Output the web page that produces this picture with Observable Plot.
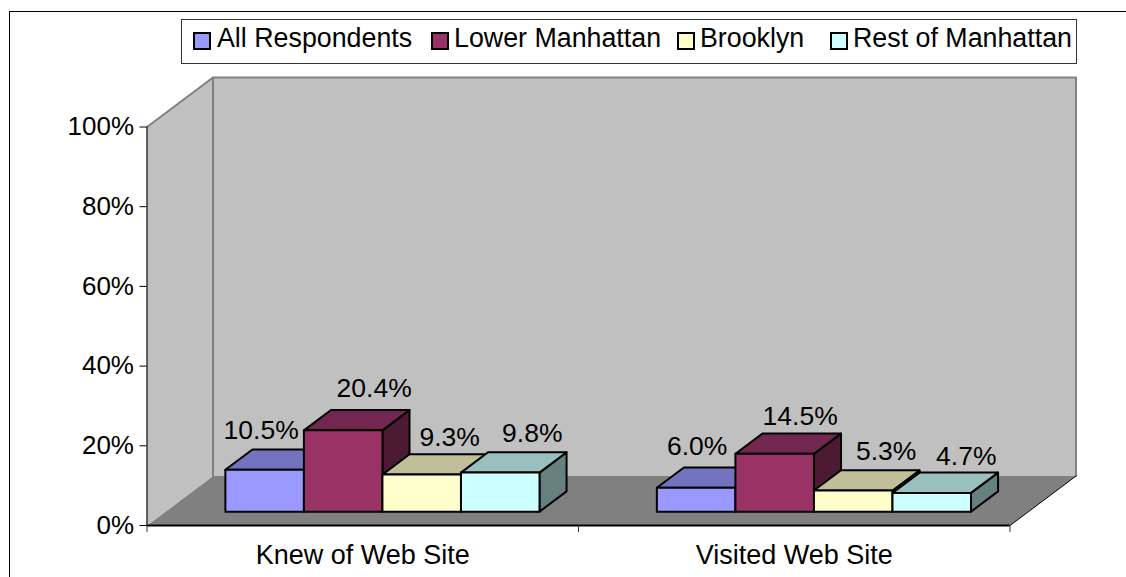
<!DOCTYPE html>
<html>
<head>
<meta charset="utf-8">
<script src="https://cdn.jsdelivr.net/npm/d3@7"></script>
<script src="https://cdn.jsdelivr.net/npm/@observablehq/plot@0.6"></script>
<style>
  html, body { margin: 0; padding: 0; background: #fff; overflow: hidden; width: 1126px; height: 577px; }
  #wrap { position: relative; width: 1126px; height: 577px; font-family: "Liberation Sans", Arial, sans-serif; color: #000; }
  #wrap svg { position: absolute; left: 0; top: 0; }
  #edge { position: absolute; left: 9px; top: 11px; width: 1117px; height: 566px; border-left: 1px solid #000; border-top: 1px solid #000; box-sizing: border-box; }
  #legend { position: absolute; left: 181px; top: 19px; width: 896px; height: 45px; box-sizing: border-box; border: 1px solid #333; background: #fff; }
  #legend .sw { position: absolute; top: 12px; width: 18px; height: 18px; box-sizing: border-box; border: 2px solid #000; }
  #legend .tx { position: absolute; top: 2px; font-size: 26.8px; line-height: 32px; white-space: nowrap; }
</style>
</head>
<body>
<div id="wrap"><div id="edge"></div></div>
<script>
// ---- data ----
const categories = ["Knew of Web Site", "Visited Web Site"];
const seriesNames = ["All Respondents", "Lower Manhattan", "Brooklyn", "Rest of Manhattan"];
const knewValues = [10.5, 20.4, 9.3, 9.8];
const visitedValues = [6.0, 14.5, 5.3, 4.7];
const yTicks = [0, 20, 40, 60, 80, 100];

// ---- style and layout ----
const frontColors = ["#9999FF", "#993366", "#FFFFCC", "#CCFFFF"];
const topColors = ["#7373BF", "#732650", "#BFBF99", "#99BFBF"];
const sideColors = ["#4D4D80", "#4D1A33", "#808066", "#668080"];
const depthX = 0.153, depthY = 12.42;       // oblique depth of the box, in data units
const barStart = 0.1388, barWidth = 0.182;  // in category units
const zFront = 0.28, zBack = 0.69;
// hand-placed data labels, in pixels from the top front centre of each bar
const labelDx = [[-3.5, 31, 28, 32], [1, 25.5, 33, 34.5]];
const labelDy = [[-39, -42.2, -36.6, -39.5], [-41, -37, -38.6, -36.6]];
const legendSwatchX = [11, 249, 495, 648];
const legendTextX = [35, 272, 518, 671];

// ---- projection of (category position, value, depth) to data-space points ----
const px = (c, z) => c + z * depthX;
const py = (v, z) => v + z * depthY;
const poly = (id, fill, pts) => [...pts, pts[0]].map(([c, v, z]) => ({id, fill, x: px(c, z), y: py(v, z)}));

const floor = poly("floor", "#808080", [[0, 0, 0], [2, 0, 0], [2, 0, 1], [0, 0, 1]]);
const backWall = poly("back", "#C0C0C0", [[0, 0, 1], [2, 0, 1], [2, 100, 1], [0, 100, 1]]);
const sideWall = poly("side", "#C0C0C0", [[0, 0, 0], [0, 0, 1], [0, 100, 1], [0, 100, 0]]);

const barFaces = [];
const barTops = [];
[knewValues, visitedValues].forEach((vals, g) => {
  vals.forEach((v, s) => {
    const a = g + barStart + s * barWidth, b = a + barWidth;
    const k = `${g}-${s}`;
    barFaces.push(...poly(k + "side", sideColors[s], [[b, 0, zFront], [b, 0, zBack], [b, v, zBack], [b, v, zFront]]));
    barFaces.push(...poly(k + "top", topColors[s], [[a, v, zFront], [b, v, zFront], [b, v, zBack], [a, v, zBack]]));
    barFaces.push(...poly(k + "front", frontColors[s], [[a, 0, zFront], [b, 0, zFront], [b, v, zFront], [a, v, zFront]]));
    barTops.push({g, s, v, x: px((a + b) / 2, zFront), y: py(v, zFront), label: v.toFixed(1) + "%"});
  });
});

const lineXY = {x: "x", y: "y"};
const font = {fontFamily: "Liberation Sans, Arial, sans-serif", fill: "#000"};
const chart = Plot.plot({
  width: 1126, height: 577,
  marginLeft: 146.5, marginRight: 116.5, marginTop: 126.5, marginBottom: 52,
  style: {background: "transparent", fontFamily: "Liberation Sans, Arial, sans-serif", color: "#000", overflow: "visible"},
  x: {domain: [0, 2]},
  y: {domain: [0, 100]},
  color: {type: "identity"},
  marks: [
    Plot.line(floor, {...lineXY, z: "id", fill: "fill", stroke: "none"}),
    Plot.line(backWall, {...lineXY, z: "id", fill: "fill", stroke: "none"}),
    Plot.line(sideWall, {...lineXY, z: "id", fill: "fill", stroke: "none"}),
    // wall edges
    Plot.line([[2, 0, 1], [2, 100, 1], [0, 100, 1], [0, 0, 1]].map(([c, v, z]) => ({x: px(c, z), y: py(v, z)})),
      {...lineXY, stroke: "#808080", strokeWidth: 2}),
    Plot.line([[0, 100, 1], [0, 100, 0]].map(([c, v, z]) => ({x: px(c, z), y: py(v, z)})),
      {...lineXY, stroke: "#808080", strokeWidth: 2}),
    // floor right edge
    Plot.line([[2, 0, 0], [2, 0, 1]].map(([c, v, z]) => ({x: px(c, z), y: py(v, z)})),
      {...lineXY, stroke: "#000", strokeWidth: 1}),
    // axes
    Plot.ruleX([0], {y1: 0, y2: 100, stroke: "#333", strokeWidth: 1.5}),
    Plot.ruleY([0], {x1: 0, x2: 2, stroke: "#000", strokeWidth: 2}),
    Plot.axisY({ticks: yTicks, tickFormat: d => d + "%", tickSize: 7, tickPadding: 6, fontSize: 26, label: null, stroke: "#000", fill: "#000"}),
    Plot.axisX({ticks: [0, 1, 2], tickFormat: () => "", tickSize: 7, label: null, stroke: "#333"}),
    Plot.text(categories, {x: (d, i) => i + 0.5, y: () => 0, dy: 30, text: d => d, fontSize: 27, ...font}),
    // bars
    Plot.line(barFaces, {...lineXY, z: "id", fill: "fill", stroke: "#000", strokeWidth: 2, strokeLinejoin: "round"}),
    // data labels
    ...barTops.map(d => Plot.text([d], {x: "x", y: "y", text: "label", dx: labelDx[d.g][d.s], dy: labelDy[d.g][d.s], fontSize: 26.5, ...font}))
  ]
});
const wrap = document.getElementById("wrap");
wrap.appendChild(chart);

// ---- legend ----
const legend = document.createElement("div");
legend.id = "legend";
seriesNames.forEach((name, i) => {
  const sw = document.createElement("div");
  sw.className = "sw";
  sw.style.left = legendSwatchX[i] + "px";
  sw.style.background = frontColors[i];
  const tx = document.createElement("div");
  tx.className = "tx";
  tx.style.left = legendTextX[i] + "px";
  tx.textContent = name;
  legend.append(sw, tx);
});
wrap.appendChild(legend);
</script>
</body>
</html>
